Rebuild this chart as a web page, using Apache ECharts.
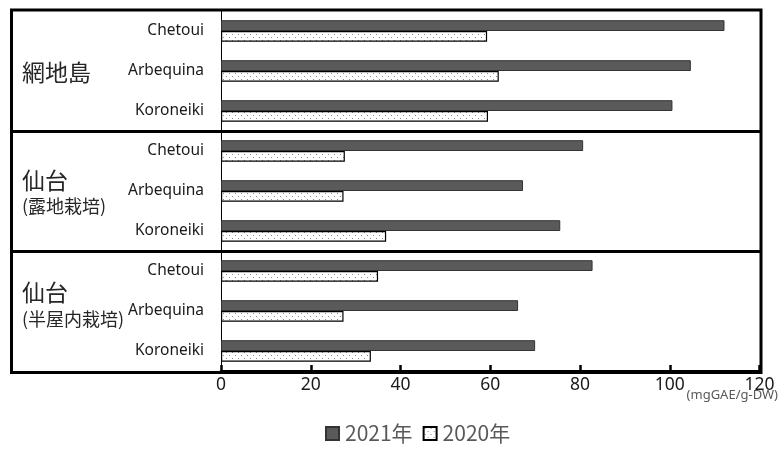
<!DOCTYPE html>
<html>
<head>
<meta charset="utf-8">
<script src="https://cdn.jsdelivr.net/npm/echarts@6/dist/echarts.min.js"></script>
<style>
  html, body { margin: 0; padding: 0; background: #fff; }
  #chart { width: 780px; height: 472px; }
</style>
</head>
<body>
<div id="chart"></div>
<script>
// Total polyphenol content of olive leaves, by site and variety
const sites = ['網地島', '仙台', '仙台'];
const siteNotes = ['', '(露地栽培)', '(半屋内栽培)'];
const varieties = ['Chetoui', 'Arbequina', 'Koroneiki'];
const seriesNames = ['2021年', '2020年'];
const values2021 = [112.2, 104.7, 100.6, 80.7, 67.3, 75.6, 82.8, 66.2, 70.0];
const values2020 = [59.3, 61.9, 59.5, 27.6, 27.3, 36.8, 35.0, 27.3, 33.4];
const xTicks = [0, 20, 40, 60, 80, 100, 120];
const unitLabel = '(mgGAE/g-DW)';

// one category per site/variety pair
const categories = [];
sites.forEach((s, i) => varieties.forEach(v => categories.push(i + ':' + v)));

// fine dotted fill for the 2020 bars
function dotPattern() {
  const c = document.createElement('canvas');
  c.width = 6; c.height = 6;
  const g = c.getContext('2d');
  g.fillStyle = '#ffffff';
  g.fillRect(0, 0, 6, 6);
  g.fillStyle = '#8c8c8c';
  g.fillRect(1, 1, 1, 1);
  g.fillRect(4, 4, 1, 1);
  return c;
}

const chart = echarts.init(document.getElementById('chart'), null, { renderer: 'canvas' });

const grid = { left: 221, top: 11, right: 20.5, bottom: 101 };
const boxLeft = 11.5, boxRight = 761, boxTop = 10, boxBottom = 372.5;
const bandH = (472 - grid.top - grid.bottom) / categories.length;
const cjk = '"Noto Sans CJK JP", sans-serif';

const graphics = [];
// outer frame
graphics.push({
  type: 'rect', z: 10, silent: true,
  shape: { x: boxLeft, y: boxTop, width: boxRight - boxLeft, height: boxBottom - boxTop },
  style: { fill: null, stroke: '#000', lineWidth: 3 }
});
// group separators
for (let i = 1; i < sites.length; i++) {
  const y = grid.top + bandH * 3 * i + 0.5;
  graphics.push({
    type: 'line', z: 10, silent: true,
    shape: { x1: boxLeft, y1: y, x2: boxRight, y2: y },
    style: { stroke: '#000', lineWidth: 3 }
  });
}
// site names on the left (name top, note top)
const siteTops = [[61, 0], [169, 197], [281, 310]];
sites.forEach((s, i) => {
  graphics.push({
    type: 'text', z: 11, silent: true,
    left: 22, top: siteTops[i][0],
    style: { text: s, fontSize: 23, fontFamily: cjk, fill: '#262626' }
  });
  if (siteNotes[i]) {
    graphics.push({
      type: 'text', z: 11, silent: true,
      left: 22, top: siteTops[i][1],
      style: { text: siteNotes[i], fontSize: 18, fontFamily: cjk, fill: '#262626' }
    });
  }
});
// unit under the value axis
graphics.push({
  type: 'text', z: 11, silent: true,
  right: 2, top: 389,
  style: { text: unitLabel, fontSize: 13, fontFamily: '"Noto Sans", sans-serif', fill: '#595959' }
});

const option = {
  animation: false,
  backgroundColor: '#fff',
  grid: grid,
  legend: {
    data: seriesNames,
    left: 320, top: 418,
    itemWidth: 13, itemHeight: 13, itemGap: 10,
    icon: 'rect',
    textStyle: { fontSize: 21, color: '#595959', fontFamily: cjk, padding: [0, 0, 0, 1] }
  },
  xAxis: {
    type: 'value', min: 0, max: 120, interval: 20,
    axisLine: { show: true, lineStyle: { color: '#000', width: 3 } },
    axisTick: { show: true, inside: true, length: 6, lineStyle: { color: '#000', width: 2.5 } },
    splitLine: { show: false },
    axisLabel: {
      fontSize: 17.5, color: '#1a1a1a', margin: 5, fontFamily: '"Noto Sans", sans-serif',
      formatter: v => xTicks.includes(v) ? String(v) : ''
    }
  },
  yAxis: {
    type: 'category', data: categories, inverse: true,
    axisLine: { show: true, lineStyle: { color: '#000', width: 1 } },
    axisTick: { show: false },
    axisLabel: {
      fontSize: 15.5, color: '#1a1a1a', margin: 17, fontFamily: '"Noto Sans", sans-serif',
      formatter: v => v.split(':')[1]
    }
  },
  series: [
    {
      name: seriesNames[0], type: 'bar', data: values2021,
      barCategoryGap: '46%', barGap: '0%',
      itemStyle: { color: '#5a5a5a', borderColor: '#333', borderWidth: 1 }
    },
    {
      name: seriesNames[1], type: 'bar', data: values2020,
      barCategoryGap: '46%', barGap: '0%',
      itemStyle: { color: { image: dotPattern(), repeat: 'repeat' }, borderColor: '#000', borderWidth: 1.2 }
    }
  ],
  graphic: graphics
};
chart.setOption(option);
</script>
</body>
</html>
